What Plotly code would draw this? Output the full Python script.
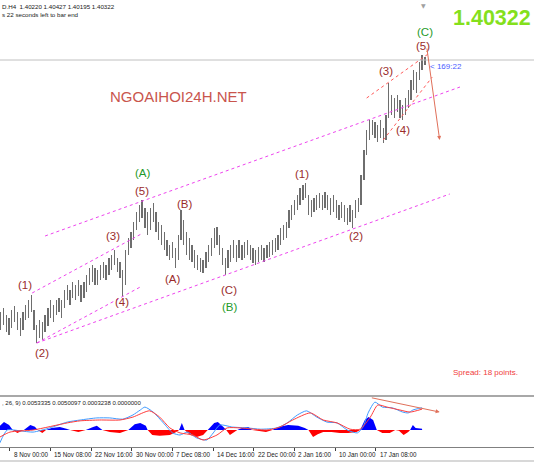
import plotly.graph_objects as go

# ---------------- data ----------------
# price bars (each bar = 3 H4 bars), x = H4 bar index (0 = 8 Nov 00:00)
bar_index = list(range(-10, 450, 3))
highs = [
    1.3150, 1.3164, 1.3140, 1.3129, 1.3157, 1.3171, 1.3150, 1.3129, 1.3150, 1.3175,
    1.3192, 1.3210, 1.3157, 1.3105, 1.3122, 1.3115, 1.3140, 1.3164, 1.3192, 1.3175,
    1.3192, 1.3199, 1.3192, 1.3227, 1.3245, 1.3227, 1.3255, 1.3245, 1.3262, 1.3245,
    1.3255, 1.3280, 1.3304, 1.3315, 1.3304, 1.3297, 1.3315, 1.3325, 1.3315, 1.3339,
    1.3350, 1.3367, 1.3339, 1.3325, 1.3297, 1.3367, 1.3409, 1.3430, 1.3465, 1.3500,
    1.3525, 1.3542, 1.3514, 1.3500, 1.3514, 1.3532, 1.3500, 1.3465, 1.3455, 1.3430,
    1.3402, 1.3385, 1.3395, 1.3374, 1.3420, 1.3507, 1.3472, 1.3430, 1.3409, 1.3385,
    1.3367, 1.3350, 1.3339, 1.3332, 1.3360, 1.3385, 1.3409, 1.3444, 1.3448, 1.3420,
    1.3374, 1.3339, 1.3367, 1.3385, 1.3402, 1.3385, 1.3402, 1.3385, 1.3395, 1.3402,
    1.3385, 1.3374, 1.3367, 1.3378, 1.3385, 1.3374, 1.3385, 1.3395, 1.3402, 1.3409,
    1.3420, 1.3444, 1.3455, 1.3465, 1.3507, 1.3525, 1.3542, 1.3560, 1.3584, 1.3595,
    1.3602, 1.3560, 1.3542, 1.3549, 1.3560, 1.3567, 1.3560, 1.3570, 1.3560, 1.3549,
    1.3560, 1.3542, 1.3525, 1.3535, 1.3525, 1.3514, 1.3525, 1.3507, 1.3542, 1.3549,
    1.3630, 1.3717, 1.3787, 1.3822, 1.3822, 1.3815, 1.3805, 1.3822, 1.3794, 1.3840,
    1.3952, 1.3910, 1.3899, 1.3910, 1.3892, 1.3875, 1.3899, 1.3927, 1.3962, 1.3997,
    1.3990, 1.4025, 1.4050, 1.4043]
lows = [
    1.3087, 1.3105, 1.3080, 1.3070, 1.3094, 1.3115, 1.3087, 1.3066, 1.3087, 1.3122,
    1.3129, 1.3150, 1.3087, 1.3042, 1.3059, 1.3052, 1.3080, 1.3101, 1.3129, 1.3115,
    1.3140, 1.3150, 1.3129, 1.3164, 1.3192, 1.3175, 1.3199, 1.3192, 1.3206, 1.3185,
    1.3199, 1.3220, 1.3245, 1.3255, 1.3245, 1.3245, 1.3262, 1.3269, 1.3262, 1.3280,
    1.3297, 1.3315, 1.3290, 1.3269, 1.3203, 1.3245, 1.3350, 1.3374, 1.3402, 1.3437,
    1.3465, 1.3479, 1.3444, 1.3420, 1.3437, 1.3465, 1.3430, 1.3402, 1.3385, 1.3367,
    1.3346, 1.3332, 1.3339, 1.3304, 1.3332, 1.3402, 1.3385, 1.3350, 1.3332, 1.3325,
    1.3304, 1.3297, 1.3290, 1.3287, 1.3304, 1.3325, 1.3346, 1.3374, 1.3385, 1.3350,
    1.3315, 1.3280, 1.3304, 1.3325, 1.3339, 1.3325, 1.3339, 1.3332, 1.3339, 1.3350,
    1.3332, 1.3322, 1.3315, 1.3325, 1.3332, 1.3325, 1.3339, 1.3343, 1.3350, 1.3360,
    1.3367, 1.3385, 1.3402, 1.3409, 1.3444, 1.3472, 1.3490, 1.3507, 1.3525, 1.3542,
    1.3549, 1.3490, 1.3483, 1.3500, 1.3507, 1.3514, 1.3507, 1.3514, 1.3507, 1.3490,
    1.3500, 1.3479, 1.3472, 1.3479, 1.3465, 1.3455, 1.3465, 1.3444, 1.3479, 1.3500,
    1.3525, 1.3612, 1.3700, 1.3752, 1.3770, 1.3759, 1.3745, 1.3759, 1.3742, 1.3752,
    1.3829, 1.3840, 1.3829, 1.3850, 1.3829, 1.3822, 1.3840, 1.3864, 1.3892, 1.3927,
    1.3917, 1.3962, 1.3997, 1.4015]
last_ohlc = [1.40220, 1.40427, 1.40195, 1.40322]
bid_price = 1.40322

tick_bars = [0, 44, 88, 132, 176, 220, 264, 308, 352, 396]
tick_labels = ["8 Nov 00:00", "15 Nov 08:00", "22 Nov 16:00", "30 Nov 00:00", "7 Dec 08:00",
               "14 Dec 16:00", "22 Dec 00:00", "2 Jan 16:00", "10 Jan 00:00", "17 Jan 08:00"]

# MACD panel
macd_x = [-11, -3, 11, 25, 43, 62, 76, 94, 108, 122, 133, 141, 146, 155, 166, 176, 184, 192, 202,
          213, 220, 227, 241, 257, 271, 289, 300, 311, 321, 332, 343, 354, 365, 376, 382, 388, 395,
          403, 414, 425, 431, 436, 446]
macd_main = [-0.0031, 0.0000, -0.0002, -0.0005, 0.0005, 0.0019, 0.0024, 0.0029, 0.0029, 0.0026,
             0.0036, 0.0048, 0.0055, 0.0043, 0.0017, -0.0007, -0.0012, -0.0005, -0.0019, -0.0024,
             -0.0007, 0.0012, 0.0007, 0.0005, 0.0002, 0.0005, 0.0017, 0.0036, 0.0046, 0.0031,
             0.0019, 0.0017, 0.0000, -0.0007, 0.0007, 0.0043, 0.0067, 0.0055, 0.0053, 0.0043,
             0.0041, 0.0048, 0.0053335]
signal_x = [-11, 0, 25, 62, 76, 97, 119, 133, 151, 162, 173, 184, 198, 209, 224, 235, 249, 278,
            292, 306, 325, 339, 354, 368, 379, 390, 398, 408, 422, 433, 446]
macd_signal = [-0.0017, -0.0005, 0.0000, 0.0017, 0.0022, 0.0024, 0.0024, 0.0031, 0.0046, 0.0031,
               0.0005, -0.0007, -0.0012, -0.0024, -0.0012, 0.0005, 0.0005, 0.0000, 0.0007, 0.0024,
               0.0041, 0.0024, 0.0017, 0.0002, 0.0002, 0.0031, 0.0060, 0.0055, 0.0048, 0.0043,
               0.0050097]
hist_x = [-11, -6.5, -1, 3, 8, 15, 22, 27, 30, 35, 39, 45, 54, 61, 65, 74, 82, 90, 94, 100, 108,
          119, 128, 135, 141, 147, 149, 154, 162, 173, 180, 183, 186, 189, 195, 202, 209, 214, 221,
          225, 231, 234, 238, 242, 246, 251, 258, 262, 268, 277, 284, 290, 301, 312, 319, 323, 328,
          333, 339, 348, 357, 366, 375, 379, 384, 388, 393, 397, 403, 411, 417, 421, 426, 431, 433,
          436, 439, 446]
hist_vals = [0.0010, 0.0019, 0.0012, 0, -0.0007, 0, 0.0012, 0.0008, 0, -0.0007, 0, 0.0005, 0.0007,
             0.0003, 0, -0.0005, 0, 0.0007, 0.0010, 0, -0.0005, -0.0007, 0, 0.0014, 0.0017, 0.0010,
             0, -0.0012, -0.0014, -0.0012, -0.0005, 0, 0.0017, 0, -0.0012, -0.0017, -0.0012, 0,
             0.0017, 0.0019, 0.0007, 0, -0.0012, -0.0005, 0, 0.0005, 0.0007, 0, -0.0002, -0.0005,
             0, 0.0007, 0.0012, 0.0010, 0.0005, 0, -0.0017, -0.0010, -0.0005, -0.0005, -0.0007,
             -0.0007, -0.0005, 0, 0.0024, 0.0031, 0.0024, 0, -0.0007, -0.0007, 0, -0.0002, -0.0012,
             -0.0005, 0, 0.0012, 0.0005, 0.0003]
macd_values_text = ", 26, 9) 0.0053335 0.0050097 0.0003238 0.0000000"

# Elliott wave labels: text, bar index, price, group
wave_text = ["(1)", "(2)", "(3)", "(4)", "(5)", "(A)", "(A)", "(B)", "(C)", "(B)",
             "(1)", "(2)", "(3)", "(4)", "(5)", "(C)"]
wave_bar = [16, 35, 111, 121, 143, 144, 176, 189, 237, 238, 316, 375, 407, 425, 447, 449]
wave_price = [1.3245, 1.3007, 1.3416, 1.3185, 1.3574, 1.3637, 1.3266, 1.3528, 1.3227, 1.3168,
              1.3633, 1.3416, 1.3994, 1.3787, 1.4081, 1.4130]
wave_major = [False, False, False, False, False, True, False, False, False, True,
              False, False, False, False, False, True]

# trend channel lines (bar index, price) pairs
pink_lines = [((38, 1.34162), (487, 1.39377)),
              ((29, 1.30417), (476, 1.35632)),
              ((29, 1.30417), (141, 1.32377)),
              ((24, 1.32167), (144, 1.34267))]
red_lines = [((386, 1.38992), (454, 1.40567)),
             ((404, 1.37522), (457, 1.39727))]
price_arrow = ((451, 1.40777), (465, 1.37522))
macd_arrow = ((390, 0.0078), (465, 0.0043))

# ---------------- figure ----------------
W, H = 534, 462
FONT = "Liberation Sans, Arial, sans-serif"
X_RANGE = [-10.8, 567.1]

fig = go.Figure()

# price bars as high-low columns
fig.add_trace(go.Bar(
    x=bar_index, y=[h - l for h, l in zip(highs, lows)], base=lows,
    width=1.4, marker=dict(color="#6e6e6e", line=dict(width=0)),
    xaxis="x", yaxis="y", hoverinfo="skip", showlegend=False))

for (x0, y0), (x1, y1) in pink_lines:
    fig.add_trace(go.Scatter(x=[x0, x1], y=[y0, y1], mode="lines",
                             line=dict(color="#ee44ee", width=1, dash="dot"),
                             xaxis="x", yaxis="y", showlegend=False, hoverinfo="skip"))
for (x0, y0), (x1, y1) in red_lines:
    fig.add_trace(go.Scatter(x=[x0, x1], y=[y0, y1], mode="lines",
                             line=dict(color="#ff5a5a", width=1, dash="dot"),
                             xaxis="x", yaxis="y", showlegend=False, hoverinfo="skip"))

# MACD histogram
pos = [max(v, 0) for v in hist_vals]
neg = [min(v, 0) for v in hist_vals]
fig.add_trace(go.Scatter(x=hist_x, y=pos, mode="lines", fill="tozeroy", fillcolor="#0000ff",
                         line=dict(width=0, color="#0000ff"), xaxis="x", yaxis="y2",
                         showlegend=False, hoverinfo="skip"))
fig.add_trace(go.Scatter(x=hist_x, y=neg, mode="lines", fill="tozeroy", fillcolor="#ff0000",
                         line=dict(width=0, color="#ff0000"), xaxis="x", yaxis="y2",
                         showlegend=False, hoverinfo="skip"))
fig.add_trace(go.Scatter(x=macd_x, y=macd_main, mode="lines",
                         line=dict(color="#3f9bff", width=1, shape="spline", smoothing=0.6),
                         xaxis="x", yaxis="y2", showlegend=False, hoverinfo="skip"))
fig.add_trace(go.Scatter(x=signal_x, y=macd_signal, mode="lines",
                         line=dict(color="#ff3c3c", width=1, shape="spline", smoothing=0.6),
                         xaxis="x", yaxis="y2", showlegend=False, hoverinfo="skip"))

main_bottom = (H - 395) / H
macd_top = (H - 397) / H
macd_bottom = (H - 447) / H

fig.update_layout(
    width=W, height=H, margin=dict(l=0, r=0, t=0, b=0),
    paper_bgcolor="white", plot_bgcolor="white",
    xaxis=dict(range=X_RANGE, anchor="y2", showgrid=False, zeroline=False,
               showline=True, linecolor="#808080", linewidth=1,
               ticks="outside", ticklen=3, tickcolor="#404040",
               tickvals=tick_bars, showticklabels=False, fixedrange=True),
    yaxis=dict(domain=[main_bottom, 1], range=[1.28597, 1.42422], visible=False, fixedrange=True),
    yaxis2=dict(domain=[macd_bottom, macd_top], range=[-0.00408, 0.00792], visible=False,
                fixedrange=True),
    bargap=0, showlegend=False, hovermode=False,
)

shapes = [
    dict(type="line", xref="paper", yref="y", x0=0, x1=1, y0=bid_price, y1=bid_price,
         line=dict(color="#c0c0c0", width=1)),
    dict(type="line", xref="paper", yref="paper", x0=0, x1=1, y0=(H - 396) / H, y1=(H - 396) / H,
         line=dict(color="#a8a8a8", width=2)),
    dict(type="line", xref="paper", yref="paper", x0=0, x1=1, y0=1 / H, y1=1 / H,
         line=dict(color="#d8d8d8", width=2)),
]
fig.update_layout(shapes=shapes)

ann = []
# wave labels
for t, b, p, major in zip(wave_text, wave_bar, wave_price, wave_major):
    ann.append(dict(x=b, y=p, xref="x", yref="y", text=t, showarrow=False,
                    font=dict(family=FONT, size=11.5, color="#1f9a2a" if major else "#9a2b2b")))
# arrows
(ax0, ay0), (ax1, ay1) = price_arrow
ann.append(dict(x=ax1, y=ay1, ax=ax0, ay=ay0, xref="x", yref="y", axref="x", ayref="y",
                showarrow=True, arrowhead=2, arrowsize=0.8, arrowwidth=1, arrowcolor="#e0705a",
                text=""))
(mx0, my0), (mx1, my1) = macd_arrow
ann.append(dict(x=mx1, y=my1, ax=mx0, ay=my0, xref="x", yref="y2", axref="x", ayref="y2",
                showarrow=True, arrowhead=2, arrowsize=0.8, arrowwidth=1, arrowcolor="#e0705a",
                text=""))
# time labels
for b, t in zip(tick_bars, tick_labels):
    ann.append(dict(x=b + 2, y=(H - 454) / H, xref="x", yref="paper", text=t, showarrow=False,
                    xanchor="left", yanchor="middle",
                    font=dict(family=FONT, size=6.3, color="#202020")))
# header texts
ann.append(dict(x=0, y=1 - 7 / H, xref="paper", yref="paper",
                text="D.H4  " + " ".join(f"{v:.5f}" for v in last_ohlc),
                showarrow=False, xanchor="left", yanchor="middle",
                font=dict(family=FONT, size=6.2, color="#202020")))
ann.append(dict(x=0, y=1 - 15 / H, xref="paper", yref="paper", text="s 22 seconds left to bar end",
                showarrow=False, xanchor="left", yanchor="middle",
                font=dict(family=FONT, size=6.2, color="#202020")))
ann.append(dict(x=451 / W, y=1 - 18 / H, xref="paper", yref="paper", text=f"<b>{bid_price:.5f}</b>",
                showarrow=False, xanchor="left", yanchor="middle",
                font=dict(family=FONT, size=21.5, color="#84e01c")))
ann.append(dict(x=423 / W, y=1, xref="paper", yref="paper", text="▼", showarrow=False,
                xanchor="center", yanchor="top", font=dict(family="DejaVu Sans", size=6, color="#a0a0a0")))
ann.append(dict(x=452, y=bid_price, xref="x", yref="y", text="< 169:22", showarrow=False,
                xanchor="left", yanchor="top", font=dict(family=FONT, size=8, color="#4a5cff")))
ann.append(dict(x=108 / W, y=1 - 97 / H, xref="paper", yref="paper", text="NGOAIHOI24H.NET",
                showarrow=False, xanchor="left", yanchor="middle",
                font=dict(family=FONT, size=15, color="#c9554d")))
ann.append(dict(x=451 / W, y=1 - 372 / H, xref="paper", yref="paper", text="Spread: 18 points.",
                showarrow=False, xanchor="left", yanchor="middle",
                font=dict(family=FONT, size=8, color="#f03c3c")))
ann.append(dict(x=0, y=1 - 403 / H, xref="paper", yref="paper", text=macd_values_text,
                showarrow=False, xanchor="left", yanchor="middle",
                font=dict(family=FONT, size=6, color="#202020")))
fig.update_layout(annotations=ann)

fig.write_html("out.html", config={"displayModeBar": False, "staticPlot": True},
               post_script="document.body.style.margin='0';document.body.style.overflow='hidden';")
